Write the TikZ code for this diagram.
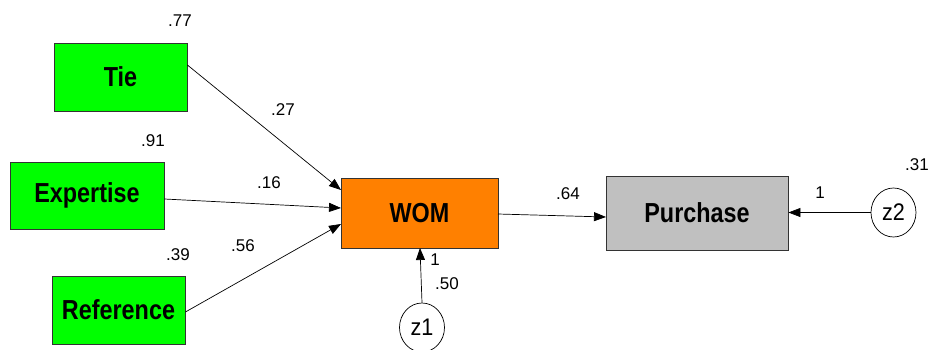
\documentclass[tikz,border=0pt]{standalone}
\usepackage{fontspec}
\usepackage{graphicx}
\setmainfont{Liberation Sans}
\newfontfamily\boxfont{Liberation Sans Bold}
\newfontfamily\numfont{Liberation Sans}
\newcommand{\bxt}[1]{\scalebox{0.85}[1]{#1}}
\newcommand{\zt}[1]{\scalebox{0.9}[1]{#1}}
\usetikzlibrary{arrows.meta,shapes.geometric}
\definecolor{vgreen}{HTML}{00FF00}
\definecolor{vorange}{HTML}{FF8000}
\definecolor{vgray}{HTML}{C0C0C0}
\begin{document}
\begin{tikzpicture}[x=1pt,y=-1pt,
  var/.style={draw=black!80,line width=0.8pt,inner sep=0pt,font=\boxfont\fontsize{27.5}{29}\selectfont},
  err/.style={draw=black,line width=0.7pt,ellipse,inner sep=0pt,minimum width=45pt,minimum height=49pt,font=\numfont\fontsize{24}{26}\selectfont},
  num/.style={font=\numfont\fontsize{17}{19}\selectfont,inner sep=0pt},
  path/.style={line width=0.7pt,-{Triangle[length=12pt,width=9pt]}}]
\useasboundingbox (0,0) rectangle (930,349);
\node[var,fill=vgreen,minimum width=133pt,minimum height=68pt] (tie) at (120.5,77) {\bxt{Tie}};
\node[var,fill=vgreen,minimum width=154pt,minimum height=67pt] (exp) at (87,195.5) {\bxt{Expertise}};
\node[var,fill=vgreen,minimum width=133pt,minimum height=68pt] (ref) at (118.5,310) {\bxt{Reference}};
\node[var,fill=vorange,minimum width=157pt,minimum height=70pt] (wom) at (419.5,213) {\bxt{WOM}};
\node[var,fill=vgray,minimum width=182pt,minimum height=74pt] (pur) at (697,213) {\bxt{Purchase}};
\node[err] (z1) at (422,327.5) {\zt{z1}};
\node[err] (z2) at (893.5,212.5) {\zt{z2}};
\coordinate (t1) at (341,190);
\coordinate (t2) at (341,208);
\coordinate (t3) at (341,224);
\coordinate (w1) at (498,214);
\coordinate (p1) at (606,217);
\draw[path] (tie.east |- 0,65) -- (t1);
\draw[path] (exp.east |- 0,199) -- (t2);
\draw[path] (ref.east |- 0,312) -- (t3);
\draw[path] (w1) -- (p1);
\draw[path] (z1.north) -- (420,248) coordinate (wb);
\draw[path] (z2.west) -- (pur.east |- z2.west);
\node[num] (n77) at (180,21) {.77};
\node[num] (n27) at (283,110) {.27};
\node[num] (n91) at (153,141) {.91};
\node[num] (n16) at (269,183) {.16};
\node[num] (n39) at (178,255) {.39};
\node[num] (n56) at (243,246) {.56};
\node[num] (n64) at (568,194) {.64};
\node[num] (n1a) at (435,260) {1};
\node[num] (n50) at (447,284) {.50};
\node[num] (n1b) at (820,193) {1};
\node[num] (n31) at (917,165) {.31};
\end{tikzpicture}
\end{document}
